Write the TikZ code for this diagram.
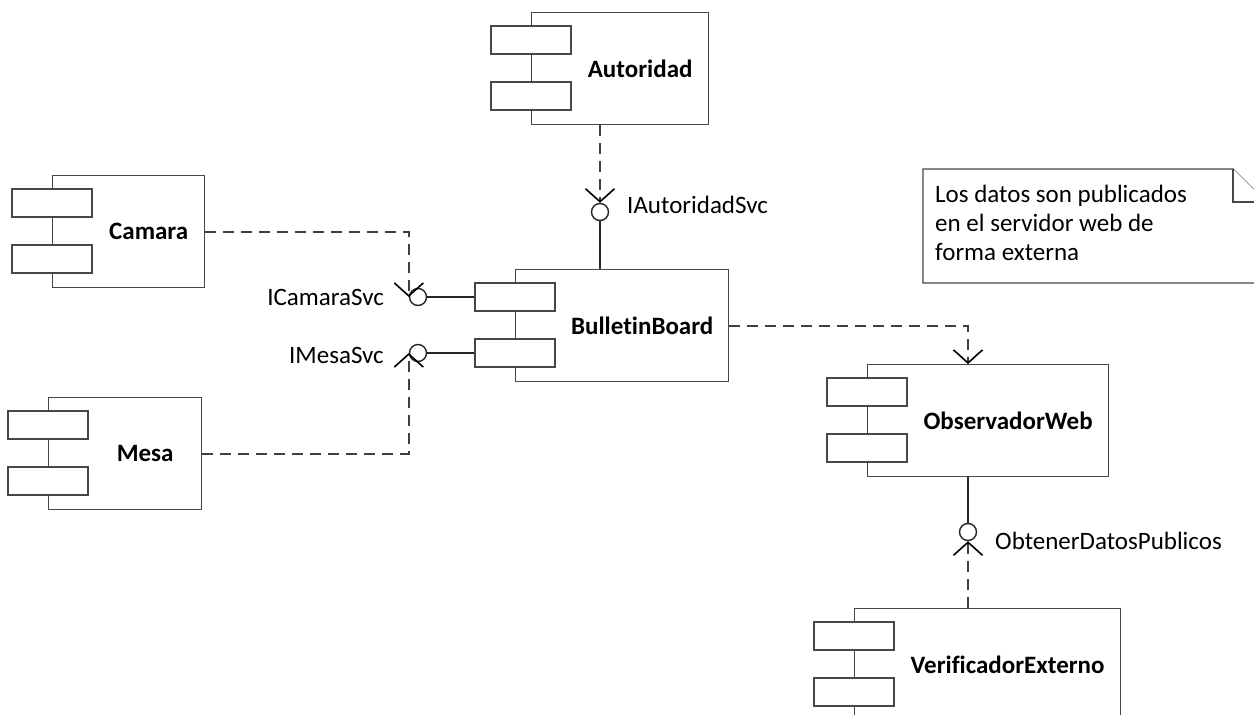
\documentclass[tikz,border=0pt]{standalone}
\usepackage{fontspec}
\setmainfont{Carlito}[Ligatures=NoCommon]
\usetikzlibrary{arrows.meta,calc}
\tikzset{
  compbody/.style={draw=black!72, line width=1.3pt, fill=white, rectangle,
    minimum height=112pt, inner sep=0pt, anchor=north west},
  compport/.style={draw=black!72, line width=1.3pt, fill=white, rectangle,
    minimum width=80pt, minimum height=28pt, inner sep=0pt},
  compname/.style={font=\fontsize{25}{30}\selectfont\bfseries, inner sep=0pt},
  ball/.style={circle, draw=black!85, line width=1.4pt, fill=white,
    minimum size=17pt, inner sep=0pt},
  wire/.style={draw=black!85, line width=1.4pt},
  dep/.style={draw=black!75, line width=1.8pt, dash pattern=on 11pt off 7pt,
    -{Straight Barb[length=13pt, width=29pt, line width=1.6pt, color=black]}},
  ifname/.style={font=\fontsize{25}{30}\selectfont, inner sep=0pt},
  notebody/.style={draw=black!72, line width=1.3pt, fill=white},
  notetext/.style={font=\fontsize{25}{29}\selectfont, align=left, inner sep=0pt,
    anchor=north west},
}
% component: name, left x, top y, width, title
\newcommand\umlcomp[5]{%
  \node[compbody, minimum width=#4pt] (#1) at (#2,#3) {};
  \node[compport] (#1-p1) at ($(#1.north west)+(0,28)$) {};
  \node[compport] (#1-p2) at ($(#1.north west)+(0,84)$) {};
  \node[compname] (#1-t) at ($(#1.center)+(20,0)$) {#5};
}
\begin{document}
\begin{tikzpicture}[x=1pt, y=-1pt]
\useasboundingbox (0,0) rectangle (1254,715);
\clip (0,0) rectangle (1254,715);

% components
\umlcomp{aut}{531}{12}{177}{Autoridad}
\umlcomp{cam}{52}{175}{152}{Camara}
\umlcomp{mesa}{48}{397}{153}{Mesa}
\umlcomp{bb}{515}{269}{213}{BulletinBoard}
\umlcomp{obs}{867}{364}{241}{ObservadorWeb}
\umlcomp{ver}{854}{608}{266}{VerificadorExterno}

% provided interfaces (lollipops)
\node[ball] (bA) at (600,212) {};
\node[ball] (bC) at (418,297) {};
\node[ball] (bM) at (418,353) {};
\node[ball] (bO) at (968,532) {};

\draw[wire] (bA.south) -- (bA.south |- bb.north);
\draw[wire] (bC.east) -- (bb-p1.west);
\draw[wire] (bM.east) -- (bb-p2.west);
\draw[wire] (bO.north) -- (bO.north |- obs.south);

% dependencies on the interfaces
\draw[dep] (bA.north |- aut.south) -- (bA.north);
\draw[dep] (cam.east) -| (bC.west);
\draw[dep] (mesa.east) -| (bM.west);
\draw[dep] (bO.south |- ver.north) -- (bO.south);
\draw[dep] (bb.east) -| ($(obs.north west)+(101,0)$);

% interface names
\node[ifname, anchor=west] (lA) at (627,205) {IAutoridadSvc};
\node[ifname, anchor=east] (lC) at (384,297) {ICamaraSvc};
\node[ifname, anchor=east] (lM) at (384,355) {IMesaSvc};
\node[ifname, anchor=west] (lO) at (995,541) {ObtenerDatosPublicos};

% note with folded corner
\draw[notebody] (923,169) -- (1233,169) -- (1266,202) -- (1266,283) -- (923,283) -- cycle;
\draw[notebody] (1233,169) -- (1233,202) -- (1266,202);
\node[notetext] (note) at (935,185) {Los datos son publicados\\en el servidor web de\\forma externa};
\end{tikzpicture}
\end{document}
